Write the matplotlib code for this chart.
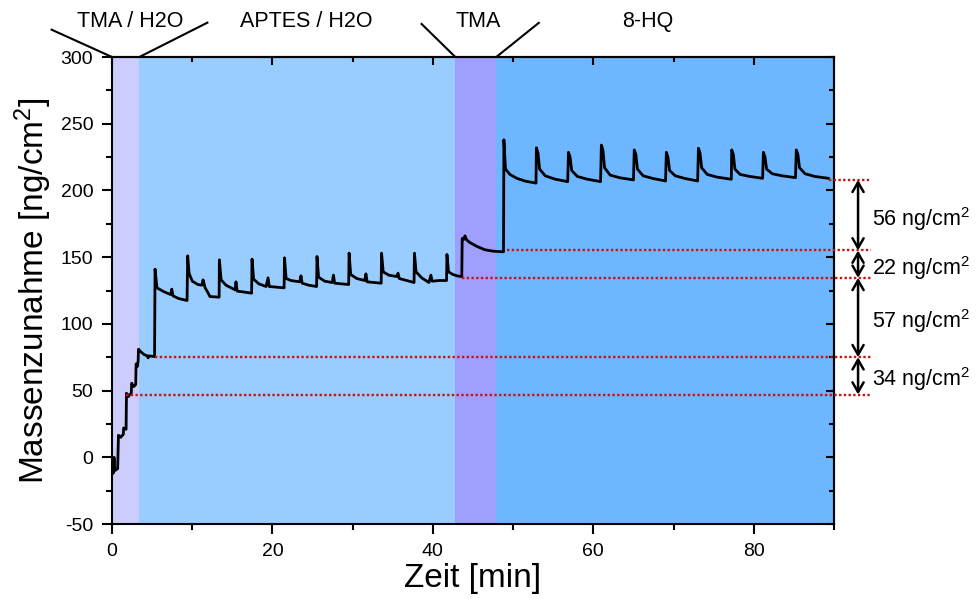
import matplotlib.pyplot as plt
from matplotlib.ticker import MultipleLocator

plt.rcParams['font.family'] = ['Liberation Sans', 'DejaVu Sans']
plt.rcParams['mathtext.fontset'] = 'custom'
plt.rcParams['mathtext.rm'] = 'Liberation Sans'
plt.rcParams['mathtext.default'] = 'regular'
plt.rcParams['axes.unicode_minus'] = False

# Messkurve: Zeit [min] / Massenzunahme [ng/cm2]
zeit_start = [0.05, 0.15, 0.25, 0.35, 0.7, 0.8, 1.1, 1.2, 1.4, 1.45, 1.75, 1.8, 2.05, 2.2,
              2.4, 2.45, 2.7, 2.95, 3.0, 3.15, 3.25, 3.3, 3.6, 4.0, 4.4, 4.5, 4.6, 5.3]
masse_start = [-10, -12, 0, -10, -8.5, 16.5, 15, 16, 17, 22, 21, 48, 45.5, 47,
               48, 55.5, 53, 54.5, 70, 68, 72, 81, 79, 77, 76, 74.5, 76, 75.5]

zeit_aptes = [5.36, 5.6, 6.5, 7.3, 7.45, 7.6, 8.3, 9.35,
              9.43, 9.6, 10.0, 10.7, 11.2, 11.35, 11.6, 11.9, 12.2, 13.35,
              13.38, 13.6, 14.2, 15.0, 15.35, 15.45, 15.6, 16.3, 17.4,
              17.45, 17.65, 18.3, 19.2, 19.45, 19.6, 20.5, 21.45,
              21.5, 21.7, 22.3, 23.4, 23.55, 23.7, 24.5, 25.5,
              25.55, 25.75, 26.5, 27.45, 27.6, 27.75, 28.6, 29.5,
              29.55, 29.75, 30.5, 31.5, 31.65, 31.8, 32.7, 33.55,
              33.6, 33.8, 34.5, 35.5, 35.65, 35.8, 36.7, 37.65,
              37.7, 37.9, 38.6, 39.5, 39.75, 39.9, 40.8, 41.7,
              41.75, 41.95, 42.5, 43.0, 43.6]
masse_aptes = [141, 127, 124, 122, 126, 121, 119, 117.5,
               151, 138, 132, 129.5, 129, 133, 127, 124, 120.5, 120,
               148, 133, 129, 126.5, 125.5, 131.5, 124.5, 124, 123,
               148.5, 133.5, 130, 128, 134.5, 128, 127.5, 127,
               149.5, 134, 132.5, 131.5, 136, 130.5, 129, 128,
               150.5, 135, 132, 131, 136.5, 130.5, 130, 129.5,
               153, 137, 134, 132.5, 137.5, 131.5, 131, 130.5,
               153, 139, 136.5, 135.5, 138, 134, 132.5, 131,
               153, 139, 134.5, 131, 136.5, 132, 132.5, 132.5,
               152, 139, 137, 136, 135.4]

zeit_tma = [43.65, 43.8, 44.0, 44.2, 44.6, 45.5, 46.5, 47.5, 48.8]
masse_tma = [164, 163, 166, 163, 161, 158, 155.5, 154.5, 154]

zeit_hq = [48.85, 49.05, 49.6, 50.5, 51.5, 52.85,
           52.9, 53.1, 53.3, 54.0, 55.2, 56.8,
           56.9, 57.1, 57.3, 58.0, 59.2, 60.9,
           61.0, 61.2, 61.4, 62.1, 63.3, 65.0,
           65.1, 65.3, 65.5, 66.2, 67.4, 69.0,
           69.1, 69.3, 69.5, 70.2, 71.4, 73.0,
           73.1, 73.3, 73.5, 74.2, 75.4, 77.2,
           77.25, 77.45, 77.65, 78.3, 79.5, 81.1,
           81.2, 81.4, 81.6, 82.3, 83.5, 85.2,
           85.3, 85.5, 85.7, 86.4, 87.6, 89.3]
masse_hq = [238, 216, 212, 209, 207, 205.5,
            232, 228, 216, 211, 208.5, 206.6,
            228.6, 225, 215, 210.5, 208.5, 206.6,
            234, 230, 217, 211.5, 209.5, 207.9,
            230.4, 227, 216, 211, 209, 207.1,
            228.6, 225, 215, 211, 209, 207.1,
            231.6, 228, 217, 212, 210, 208.4,
            230.4, 227, 216, 212, 210.5, 209.1,
            228.6, 225, 216, 212.5, 211, 209.6,
            230.4, 227, 217, 212.5, 210.5, 209.1]

zeit = zeit_start + zeit_aptes + zeit_tma + zeit_hq
masse = masse_start + masse_aptes + masse_tma + masse_hq

# Abschnitte
phasen = ['TMA / H2O', 'APTES / H2O', 'TMA', '8-HQ']
grenzen = [0, 3.4, 42.8, 47.9, 90]
farben = ['#ccccff', '#99ccff', '#9f9fff', '#6eb6ff']

# Niveaus (rote Linien) und Zuwachs
niveaus = [208, 155, 134.5, 75, 47]
niveau_start = [89.4, 49.2, 43.6, 5.4, 1.7]
zuwachs = ['56', '22', '57', '34']

fig = plt.figure(figsize=(9.76, 5.99), dpi=100)
ax = fig.add_axes([0.1148, 0.1252, 0.7397, 0.7796])

for i in range(len(phasen)):
    ax.axvspan(grenzen[i], grenzen[i + 1], color=farben[i], lw=0, zorder=0)

ax.plot(zeit, masse, color='black', lw=2, zorder=3)

x_ende = 94.6
for lvl, x0 in zip(niveaus, niveau_start):
    ax.plot([x0, x_ende], [lvl, lvl], color='#cc1111', lw=1.7, ls=(0, (1, 1)),
            clip_on=False, zorder=4)

x_pfeil = 93.0
for i, txt in enumerate(zuwachs):
    oben, unten = niveaus[i], niveaus[i + 1]
    ax.annotate('', xy=(x_pfeil, unten), xytext=(x_pfeil, oben),
                arrowprops=dict(arrowstyle='<->, head_length=0.35, head_width=0.2',
                                color='black', lw=1.8, shrinkA=0, shrinkB=0,
                                mutation_scale=20),
                annotation_clip=False)
    ax.text(94.7, (oben + unten) / 2, txt + ' ng/cm$^{2}$', fontsize=15.5,
            va='center_baseline', ha='left', clip_on=False)

# Beschriftung der Abschnitte oben
label_x = [2.24, 24.2, 45.7, 66.8]
for name, lx in zip(phasen, label_x):
    ax.text(lx, 326.3, name, fontsize=15.5, ha='center', va='center', clip_on=False)

verbinder = [(0, -7.65, 320.8), (3.4, 12.0, 326.1), (42.8, 38.5, 325.3), (47.9, 53.3, 326.1)]
for xb, xo, yo in verbinder:
    ax.plot([xb, xo], [300, yo], color='black', lw=1.5, clip_on=False, solid_capstyle='butt')

ax.set_xlim(0, 90)
ax.set_ylim(-50, 300)
ax.xaxis.set_major_locator(MultipleLocator(20))
ax.xaxis.set_minor_locator(MultipleLocator(10))
ax.yaxis.set_major_locator(MultipleLocator(50))
ax.yaxis.set_minor_locator(MultipleLocator(25))
ax.tick_params(which='both', direction='out', width=1.5, labelsize=14, pad=6)
ax.tick_params(which='major', length=7.5)
ax.tick_params(which='minor', length=4)
for s in ax.spines.values():
    s.set_linewidth(1.5)

oben_ax = ax.secondary_xaxis('top')
oben_ax.xaxis.set_major_locator(MultipleLocator(20))
oben_ax.xaxis.set_minor_locator(MultipleLocator(10))
oben_ax.tick_params(which='both', direction='in', width=1.5, labeltop=False)
oben_ax.tick_params(which='major', length=6)
oben_ax.tick_params(which='minor', length=3.5)
oben_ax.spines['top'].set_linewidth(1.5)

rechts_ax = ax.secondary_yaxis('right')
rechts_ax.yaxis.set_major_locator(MultipleLocator(50))
rechts_ax.yaxis.set_minor_locator(MultipleLocator(25))
rechts_ax.tick_params(which='both', direction='in', width=1.5, labelright=False)
rechts_ax.tick_params(which='major', length=6)
rechts_ax.tick_params(which='minor', length=3.5)
rechts_ax.spines['right'].set_linewidth(1.5)

ax.set_xlabel('Zeit [min]', fontsize=24)
ax.set_ylabel('Massenzunahme [ng/cm$^{2}$]', fontsize=24)
ax.xaxis.set_label_coords(0.5, -0.083)
ax.yaxis.set_label_coords(-0.080, 0.5)

plt.savefig('out.png', dpi=100)
